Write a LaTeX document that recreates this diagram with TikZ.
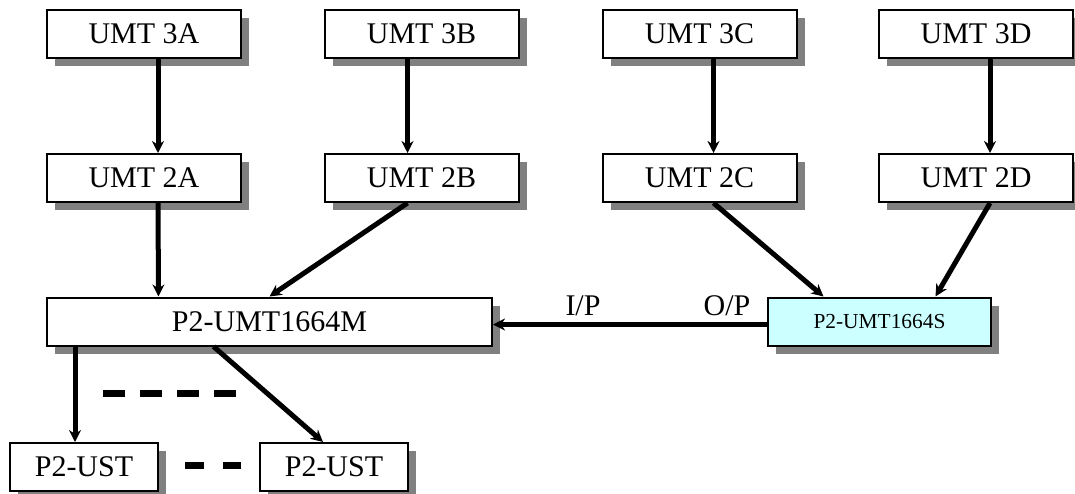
\documentclass[tikz,border=0pt]{standalone}
\usepackage{fontspec}
\setmainfont{Liberation Serif}
\usetikzlibrary{shadows,arrows.meta}
\definecolor{slavecyan}{HTML}{CCFFFF}
\definecolor{shadowgray}{HTML}{808080}

\begin{document}
\begin{tikzpicture}[x=0.5pt,y=-0.5pt,
    box/.style={draw,line width=1pt,fill=white,minimum height=24pt,inner sep=0pt,
      font=\fontsize{15}{18}\selectfont,
      drop shadow={shadow xshift=4pt,shadow yshift=-4pt,fill=shadowgray,opacity=1}},
    umtbox/.style={box,minimum width=97pt},
    link/.style={line width=2.5pt,-{Stealth[length=6pt,width=6pt]}},
    port/.style={anchor=base,inner sep=0pt,font=\fontsize{15}{18}\selectfont}]
    \useasboundingbox (0,0) rectangle (1075,493);

    % Level 3 units
    \node[umtbox] (u3a) at (144,34) {UMT 3A};
    \node[umtbox] (u3b) at (421.5,34) {UMT 3B};
    \node[umtbox] (u3c) at (699.5,34) {UMT 3C};
    \node[umtbox] (u3d) at (976,34) {UMT 3D};

    % Level 2 units
    \node[umtbox] (u2a) at (144,178) {UMT 2A};
    \node[umtbox] (u2b) at (421.5,178) {UMT 2B};
    \node[umtbox] (u2c) at (699.5,178) {UMT 2C};
    \node[umtbox] (u2d) at (976,178) {UMT 2D};

    % Master and slave
    \node[box,minimum width=222.5pt] (master) at (269.5,321.5) {P2-UMT1664M};
    \node[box,minimum width=111.5pt,fill=slavecyan,font=\fontsize{10.7}{13}\selectfont]
        (slave) at (879.5,321.5) {P2-UMT1664S};

    % Stations
    \node[box,minimum width=74pt] (ust1) at (84,467) {P2-UST};
    \node[box,minimum width=74pt] (ust2) at (334,467) {P2-UST};

    % Links
    \draw[link] ([xshift=7pt]u3a.south) -- ([xshift=7pt]u2a.north);
    \draw[link] ([xshift=-7pt]u3b.south) -- ([xshift=-7pt]u2b.north);
    \draw[link] ([xshift=7pt]u3c.south) -- ([xshift=7pt]u2c.north);
    \draw[link] ([xshift=7pt]u3d.south) -- ([xshift=7pt]u2d.north);

    \draw[link] ([xshift=7pt]u2a.south) -- ([xshift=-55.5pt]master.north);
    \draw[link] ([xshift=-7pt]u2b.south) -- ([xshift=0pt]master.north);
    \draw[link] ([xshift=7pt]u2c.south) -- ([xshift=-28pt]slave.north);
    \draw[link] ([xshift=7pt]u2d.south) -- ([xshift=28pt]slave.north);

    \draw[link] ([yshift=-1.5pt]slave.west) -- ([yshift=-1.5pt]master.east);
    \node[port] (ip) at (583,315) {I/P};
    \node[port] (op) at (727,315) {O/P};

    \draw[link] ([xshift=-4.5pt]master.south -| ust1.north) -- ([xshift=-4.5pt]ust1.north);
    \draw[link] ([xshift=-28pt]master.south) -- ([xshift=-5.5pt]ust2.north);

    % Dashes
    \draw[line width=3.5pt,dash pattern=on 11pt off 7.5pt] (103,393) -- (236,393);
    \draw[line width=3.5pt,dash pattern=on 9.5pt off 9.5pt] (185,465) -- (241,465);
\end{tikzpicture}
\end{document}
